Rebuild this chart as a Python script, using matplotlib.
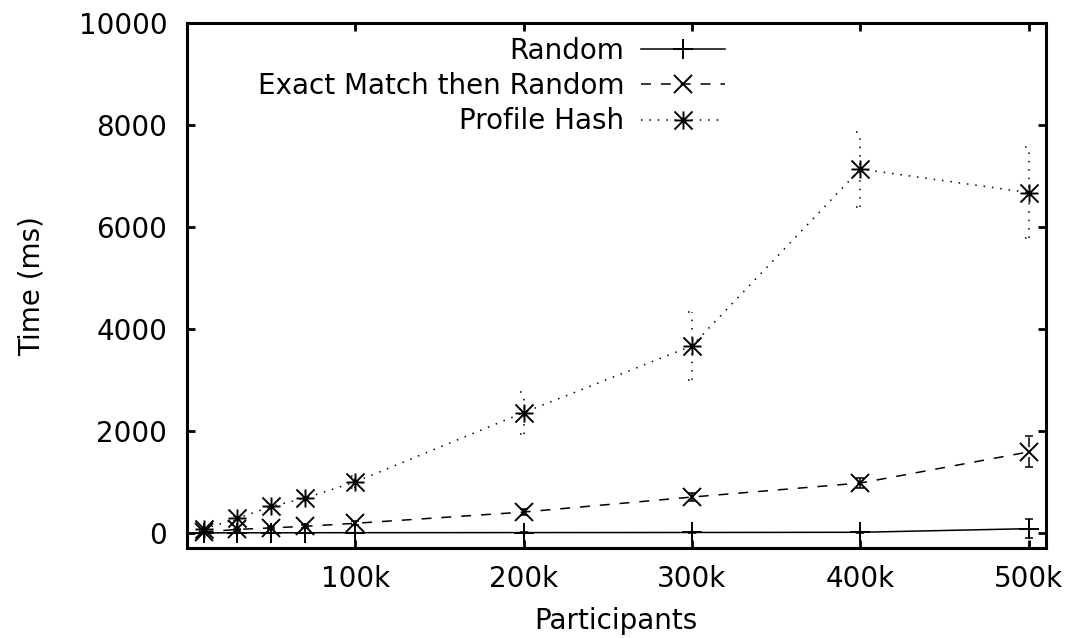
import matplotlib
matplotlib.use("Agg")
import matplotlib.pyplot as plt
from matplotlib.path import Path
import numpy as np

plt.rcParams['font.family'] = ['DejaVu Sans']

participants = [10000, 30000, 50000, 70000, 100000, 200000, 300000, 400000, 500000]
xtick_vals = [100000, 200000, 300000, 400000, 500000]
xtick_labels = ["100k", "200k", "300k", "400k", "500k"]
ytick_vals = [0, 2000, 4000, 6000, 8000, 10000]

random_ms = [2, 3, 4, 5, 6, 8, 10, 14, 85]
random_err = [1, 1, 2, 2, 3, 5, 8, 10, 185]
exact_ms = [20, 70, 100, 130, 190, 410, 705, 980, 1590]
exact_err = [5, 15, 20, 30, 40, 60, 80, 100, 305]
profile_ms = [75, 285, 520, 680, 1000, 2360, 3670, 7135, 6675]
profile_err = [10, 40, 60, 80, 120, 410, 670, 735, 890]

labels = ["Random", "Exact Match then Random", "Profile Hash"]

# gnuplot-style asterisk: plus combined with cross
star_path = Path(
    [(-1, 0), (1, 0), (0, -1), (0, 1), (-1, -1), (1, 1), (-1, 1), (1, -1)],
    [Path.MOVETO, Path.LINETO] * 4,
)

FS = 20
fig = plt.figure(figsize=(10.71, 6.38), dpi=100)
ax = fig.add_axes([0.1743, 0.1406, 0.9764 - 0.1743, 0.964 - 0.1406])

series = [
    (random_ms, random_err, '-', '+', 14, labels[0]),
    (exact_ms, exact_err, (0, (6.5, 6.5)), 'x', 13, labels[1]),
    (profile_ms, profile_err, (0, (1, 4.5)), star_path, 13, labels[2]),
]

cap_half = 2400  # half width of caps in data units
x = np.array(participants, dtype=float)
for vals, errs, ls, mk, ms, lab in series:
    v = np.array(vals, dtype=float)
    e = np.array(errs, dtype=float)
    eb = ax.errorbar(x, v, yerr=e, fmt='none', ecolor='black', elinewidth=1.1, capsize=0)
    for c in eb[2]:
        c.set_linestyle(ls)
    ax.hlines(np.concatenate([v + e, v - e]), np.concatenate([x - cap_half, x - cap_half]),
              np.concatenate([x + cap_half, x + cap_half]), colors='black', linewidth=1.1, linestyles=ls)
    ax.plot(x, v, color='black', linestyle=ls, linewidth=1.1, marker=mk,
            markersize=ms, markeredgewidth=1.4, markerfacecolor='none', label=lab)

ax.set_xlim(0, 510000)
ax.set_ylim(-300, 10000)
ax.set_xticks(xtick_vals)
ax.set_xticklabels(xtick_labels)
ax.set_yticks(ytick_vals)
ax.tick_params(direction='in', length=6, width=2, labelsize=FS, top=True, right=True)
ax.tick_params(axis='y', pad=14)
ax.tick_params(axis='x', pad=12)
for s in ax.spines.values():
    s.set_linewidth(2.2)

ax.set_xlabel("Participants", fontsize=FS, labelpad=10)
ax.set_ylabel("Time (ms)", fontsize=FS, labelpad=24)

leg = ax.legend(loc='upper right', bbox_to_anchor=(0.652, 1.016), frameon=False, markerfirst=False,
                fontsize=FS, handlelength=3.0, handletextpad=0.6, labelspacing=0.26, borderpad=0.3)

fig.savefig("out.png", dpi=100)
